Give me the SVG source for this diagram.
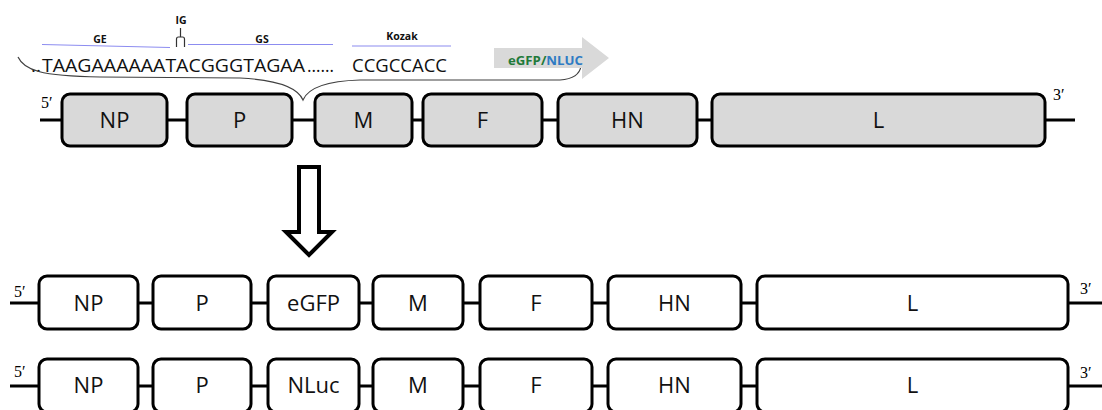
<svg xmlns="http://www.w3.org/2000/svg" width="1102" height="410" viewBox="0 0 1102 410">
  <style>
    .gene { stroke: #000; stroke-width: 3; }
    .wt { fill: #d9d9d9; }
    .ins { fill: #fff; }
    .lbl { font-family: "Open Sans", "Liberation Sans", sans-serif; font-size: 22px; fill: #111; text-anchor: middle; }
    .end { font-family: "Liberation Serif", serif; font-size: 16px; fill: #000; }
    .link { stroke: #000; stroke-width: 3; fill: none; }
    .seq { font-family: "Open Sans", "Liberation Sans", sans-serif; font-size: 19px; fill: #111; }
    .tag { font-family: "Open Sans", "Liberation Sans", sans-serif; font-size: 10.5px; font-weight: bold; fill: #111; text-anchor: middle; }
    .mark { stroke: #8c8cf0; stroke-width: 1.2; fill: none; }
  </style>

  <!-- sequence detail of the junction -->
  <g id="junction">
    <text class="tag" x="181" y="24">IG</text>
    <path d="M180.5,28 V37 M176.5,47 V39 Q176.5,37 178.5,37 H182.5 Q184.5,37 184.5,39 V47" stroke="#333" stroke-width="1.2" fill="none"/>
    <path class="mark" d="M42,44.5 L170,47.5"/>
    <text class="tag" x="100" y="43">GE</text>
    <path class="mark" d="M188,44.5 H333"/>
    <text class="tag" x="262" y="43">GS</text>
    <path class="mark" d="M352,46 H451"/>
    <text class="tag" x="402" y="40">Kozak</text>
    <text class="seq" x="31" y="72" font-size="8">..</text>
    <text class="seq" x="42" y="72" textLength="263" lengthAdjust="spacingAndGlyphs">TAAGAAAAAATACGGGTAGAA</text>
    <text class="seq" x="307" y="72" textLength="27" lengthAdjust="spacingAndGlyphs">……</text>
    <text class="seq" x="352" y="72" textLength="95" lengthAdjust="spacingAndGlyphs">CCGCCACC</text>
    <path d="M18,57 C24,70 40,76 100,77 L240,78 C280,80 298,88 303,100 C308,88 325,81 360,80 L560,80 C574,79 580,73 581,66" stroke="#404040" stroke-width="1.2" fill="none"/>
  </g>

  <!-- reporter insert arrow -->
  <g id="reporter-arrow">
    <polygon points="494,48 582,48 582,37 609,58 582,79 582,68 494,68" fill="#d9d9d9"/>
    <text x="508" y="65" font-family="'Open Sans', 'Liberation Sans', sans-serif" font-size="11.5" font-weight="bold" textLength="75" lengthAdjust="spacingAndGlyphs"><tspan fill="#1f7a3a">eGFP/</tspan><tspan fill="#2e7bc4">NLUC</tspan></text>
  </g>

  <!-- connectors -->
  <g id="connectors">
    <path class="link" d="M40,120 H62 M167,120 H187 M292,120 H315 M412,120 H423 M542,120 H558 M697,120 H712 M1045,120 H1075"/>
    <path class="link" d="M10,303 H39 M138,303 H153 M251,303 H268 M359,303 H373 M463,303 H480 M592,303 H608 M741,303 H757 M1068,303 H1102"/>
    <path class="link" d="M10,386 H39 M138,386 H153 M251,386 H268 M359,386 H373 M463,386 H480 M592,386 H608 M741,386 H757 M1068,386 H1102"/>
  </g>

  <!-- wild-type genome -->
  <g id="wt-genome">
    <text class="end" x="41" y="108">5′</text>
    <text class="end" x="1053" y="100">3′</text>
    <g id="wt-NP"><rect class="gene wt" x="62" y="94" width="105" height="52" rx="8"/><text class="lbl" x="114.5" y="128">NP</text></g>
    <g id="wt-P"><rect class="gene wt" x="187" y="94" width="105" height="52" rx="8"/><text class="lbl" x="239.5" y="128">P</text></g>
    <g id="wt-M"><rect class="gene wt" x="315" y="94" width="97" height="52" rx="8"/><text class="lbl" x="363.5" y="128">M</text></g>
    <g id="wt-F"><rect class="gene wt" x="423" y="94" width="119" height="52" rx="8"/><text class="lbl" x="482.5" y="128">F</text></g>
    <g id="wt-HN"><rect class="gene wt" x="558" y="94" width="139" height="52" rx="8"/><text class="lbl" x="627.5" y="128">HN</text></g>
    <g id="wt-L"><rect class="gene wt" x="712" y="94" width="333" height="52" rx="8"/><text class="lbl" x="878.5" y="128">L</text></g>
  </g>

  <!-- hollow down arrow -->
  <g id="down-arrow">
    <polygon points="299,167 319,167 319,232 332,232 309,255 286,232 299,232" fill="#fff" stroke="#000" stroke-width="4" stroke-linejoin="miter"/>
  </g>

  <!-- recombinant genome with eGFP -->
  <g id="egfp-genome">
    <text class="end" x="14" y="297">5′</text>
    <text class="end" x="1080" y="294">3′</text>
    <g id="g1-NP"><rect class="gene ins" x="39" y="276" width="99" height="53" rx="8"/><text class="lbl" x="88.5" y="311">NP</text></g>
    <g id="g1-P"><rect class="gene ins" x="153" y="276" width="98" height="53" rx="8"/><text class="lbl" x="202" y="311">P</text></g>
    <g id="g1-eGFP"><rect class="gene ins" x="268" y="276" width="91" height="53" rx="8" stroke="#00b050"/><text class="lbl" x="313.5" y="311">eGFP</text></g>
    <g id="g1-M"><rect class="gene ins" x="373" y="276" width="90" height="53" rx="8"/><text class="lbl" x="418" y="311">M</text></g>
    <g id="g1-F"><rect class="gene ins" x="480" y="276" width="112" height="53" rx="8"/><text class="lbl" x="536" y="311">F</text></g>
    <g id="g1-HN"><rect class="gene ins" x="608" y="276" width="133" height="53" rx="8"/><text class="lbl" x="674.5" y="311">HN</text></g>
    <g id="g1-L"><rect class="gene ins" x="757" y="276" width="311" height="53" rx="8"/><text class="lbl" x="912.5" y="311">L</text></g>
  </g>

  <!-- recombinant genome with NLuc -->
  <g id="nluc-genome">
    <text class="end" x="14" y="377">5′</text>
    <text class="end" x="1080" y="378">3′</text>
    <g id="g2-NP"><rect class="gene ins" x="39" y="359" width="99" height="53" rx="8"/><text class="lbl" x="88.5" y="393">NP</text></g>
    <g id="g2-P"><rect class="gene ins" x="153" y="359" width="98" height="53" rx="8"/><text class="lbl" x="202" y="393">P</text></g>
    <g id="g2-NLuc"><rect class="gene ins" x="268" y="359" width="91" height="53" rx="8" stroke="#1515e6"/><text class="lbl" x="313.5" y="393">NLuc</text></g>
    <g id="g2-M"><rect class="gene ins" x="373" y="359" width="90" height="53" rx="8"/><text class="lbl" x="418" y="393">M</text></g>
    <g id="g2-F"><rect class="gene ins" x="480" y="359" width="112" height="53" rx="8"/><text class="lbl" x="536" y="393">F</text></g>
    <g id="g2-HN"><rect class="gene ins" x="608" y="359" width="133" height="53" rx="8"/><text class="lbl" x="674.5" y="393">HN</text></g>
    <g id="g2-L"><rect class="gene ins" x="757" y="359" width="311" height="53" rx="8"/><text class="lbl" x="912.5" y="393">L</text></g>
  </g>
</svg>
